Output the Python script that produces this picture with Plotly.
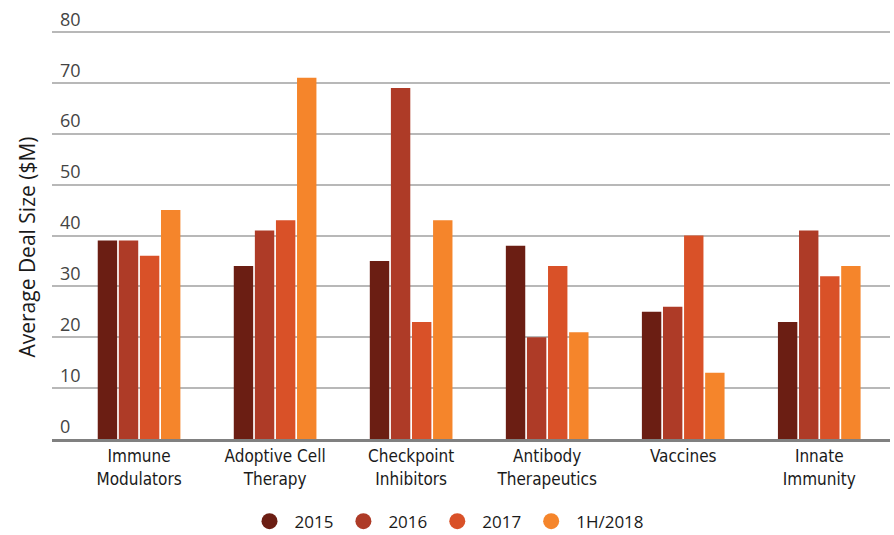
import plotly.graph_objects as go

categories = ["Immune<br>Modulators", "Adoptive Cell<br>Therapy", "Checkpoint<br>Inhibitors",
              "Antibody<br>Therapeutics", "Vaccines", "Innate<br>Immunity"]
series_names = ["2015", "2016", "2017", "1H/2018"]
values_2015 = [39, 34, 35, 38, 25, 23]
values_2016 = [39, 41, 69, 20, 26, 41]
values_2017 = [36, 43, 23, 34, 40, 32]
values_1h2018 = [45, 71, 43, 21, 13, 34]
y_ticks = [0, 10, 20, 30, 40, 50, 60, 70, 80]

colors = ["#6B1E13", "#AE3B27", "#D95128", "#F5852B"]
series_values = [values_2015, values_2016, values_2017, values_1h2018]

cat_font = "DejaVu Sans Condensed, Roboto, sans-serif"
num_font = "Open Sans, sans-serif"

fig = go.Figure()
for name, vals, col in zip(series_names, series_values, colors):
    fig.add_trace(go.Bar(x=list(range(len(categories))), y=vals, name=name,
                         marker=dict(color=col, line=dict(width=0)),
                         showlegend=False))
# round legend swatches
for name, col in zip(series_names, colors):
    fig.add_trace(go.Scatter(x=[None], y=[None], mode="markers", name=name,
                             marker=dict(color=col, size=20, symbol="circle")))

fig.update_layout(
    width=894, height=535,
    margin=dict(l=52, r=4, t=2, b=96),
    paper_bgcolor="white", plot_bgcolor="white",
    barmode="group", bargap=0.38, bargroupgap=0.08,
    font=dict(family=num_font, color="#1a1a1a", size=17),
    legend=dict(orientation="h", xref="container", x=0.5, xanchor="center",
                yref="container", y=0.025, yanchor="middle",
                font=dict(size=17, family=num_font),
                itemsizing="trace", itemwidth=40, tracegroupgap=0),
    annotations=[dict(text="Average Deal Size ($M)", textangle=-90,
                      xref="paper", x=-0.03, xanchor="center",
                      yref="paper", y=0.44, yanchor="middle",
                      showarrow=False, font=dict(size=21, family=num_font, color="#1a1a1a"))],
)
fig.update_xaxes(
    range=[-0.64, 5.52], tickmode="array", tickvals=list(range(len(categories))),
    ticktext=categories, showgrid=False, zeroline=False,
    showline=True, linecolor="#808080", linewidth=3,
    tickfont=dict(size=17, family=cat_font), ticks="",
)
fig.update_yaxes(
    range=[0, 85.9], tickvals=y_ticks, showgrid=True, gridcolor="#b8b8b8", gridwidth=2,
    zeroline=False, ticklabelposition="inside top", ticklabelstandoff=5,
    tickfont=dict(size=18, family=num_font),
)

fig.write_html("out.html")
